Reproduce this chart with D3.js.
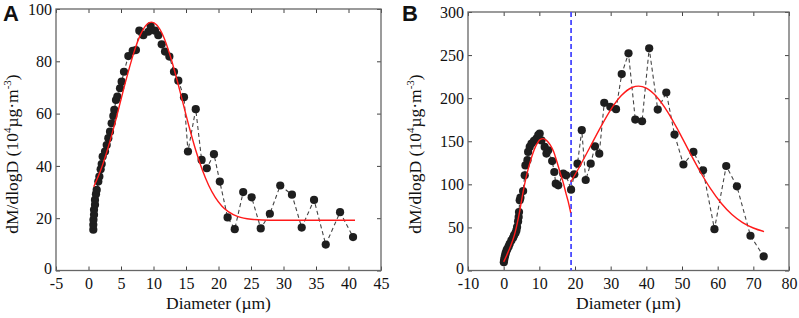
<!DOCTYPE html>
<html>
<head>
<meta charset="utf-8">
<script src="https://cdn.jsdelivr.net/npm/d3@7"></script>
<style>
  html, body { margin: 0; padding: 0; background: #fff; }
  svg { display: block; }
</style>
</head>
<body>
<svg id="chart" width="799" height="318"></svg>
<script>
// ---------- Panel A data ----------
const aDiameter = [0.74,0.74,0.76,0.85,0.85,1.0,1.0,1.15,1.26,1.51,1.67,1.87,2.03,2.18,2.54,2.8,3.05,3.31,3.56,3.82,3.97,4.23,4.44,4.85,5.1,5.46,6.13,6.8,7.3,7.82,8.44,9.2,9.56,10.23,10.74,11.26,11.77,12.44,13.15,13.82,14.69,15.3,16.5,17.4,18.2,19.3,20.2,21.4,22.5,23.8,25.1,26.5,27.9,29.5,31.3,32.8,34.7,36.5,38.7,40.7];
const aMass = [15.6,17.5,19.4,21.3,23.2,25.1,27.0,29.2,30.8,34.0,35.9,38.7,40.7,43.6,45.5,48,50.6,53.1,56.3,59.1,61.4,65.2,66.5,69.7,72.2,76,82,84,84.3,91.7,90,91.3,93.5,91.7,90,86.5,83.7,81.8,76,72.6,66.3,45.5,61.7,42.3,39.1,44.5,34,20.3,15.8,30,28,16.1,21.7,32.5,29,16.4,27,9.9,22.3,12.8];
const aFitX = [0.8,2,3,4,5,6,7,8,9,9.7,10.5,11.5,12.5,13.5,14.5,15.5,16.5,17.5,18.5,19.5,20.5,21.5,23,25,28,32,36,41];
const aFitY = [32.0,39.2,46.9,55.7,65.4,74.9,83.5,90.2,94.2,95.0,93.9,89.7,82.7,74.0,64.4,54.8,46.0,38.5,32.5,27.95,24.7,22.5,20.6,19.6,19.24,19.2,19.2,19.2];
const aXTicks = [-5,0,5,10,15,20,25,30,35,40,45];
const aYTicks = [0,20,40,60,80,100];

// ---------- Panel B data ----------
const bDiameter = [0.05,0.15,0.28,0.45,0.56,0.8,1.03,1.4,1.69,2.16,2.63,2.9,3.3,3.57,3.76,4.04,4.2,4.3,4.5,4.7,5.45,5.9,6.1,6.67,6.86,7.3,7.8,8.5,9.2,9.7,10.1,10.6,11.5,12.0,12.5,13.6,14.2,14.6,15.3,16.7,17.5,18.9,19.8,20.7,21.9,23.0,24.4,25.6,26.8,28.2,29.9,31.5,33.1,35,36.9,38.8,40.8,43.2,45.6,47.9,50.4,53.2,55.9,59.1,62.4,65.4,69.2,72.9];
const bMass = [9.7,12.5,15.5,18,20.2,23,25.2,27.9,31,34.9,38,40.7,43.4,46.5,50.4,57,62,67.8,81.4,84.5,92.2,110.5,122,128,137.6,143.4,147.3,150.4,153,157,159,151,143.4,135.7,139.5,127,114.3,100.8,98.8,112.4,110.5,93.8,111.6,124,162.8,105,124,144,135.6,194.6,190,187.2,228,252,175.2,173.2,257.8,186.8,206.6,157.8,123,137.6,116.3,48,121.3,97.7,40.3,16.3];
const bFit1X = [0,1,2,3,3.6,4.5,5.4,6.4,7.8,9.2,10.2,11.1,12,13,14,14.8,15.8,16.7,17.5,18.1,18.8];
const bFit1Y = [10,19,29,41,51,69,90,110,131,146,152,153,151,146,138,128,114,102,89,80,67];
const bFit2X = [18.8,21,24,27,30,33,36,37.8,40,43,46,49,52,55,58,61,64,67,70,73];
const bFit2Y = [102.7,118.4,141.6,165,186.5,203,212.4,214,211.6,201.1,183.9,162.1,138.4,115.5,95,78.1,65,55.6,49.3,45.2];
const bDivider = [18.9];
const bXTicks = [-10,0,10,20,30,40,50,60,70,80];
const bYTicks = [0,50,100,150,200,250,300];

const SERIF = '"Liberation Serif", "Times New Roman", Times, serif';
const svg = d3.select("#chart");
const plainFmt = d => String(d);

function panel(cfg) {
  const x = d3.scaleLinear().domain(cfg.xDomain).range([cfg.left, cfg.right]);
  const y = d3.scaleLinear().domain(cfg.yDomain).range([cfg.bottom, cfg.top]);
  const g = svg.append("g");

  const ax = g.append("g").attr("transform", `translate(0,${cfg.bottom})`)
    .call(d3.axisBottom(x).tickValues(cfg.xTicks).tickFormat(plainFmt).tickSizeInner(-4).tickSizeOuter(0).tickPadding(7));
  const ay = g.append("g").attr("transform", `translate(${cfg.left},0)`)
    .call(d3.axisLeft(y).tickValues(cfg.yTicks).tickFormat(plainFmt).tickSizeInner(-4).tickSizeOuter(0).tickPadding(4));
  const at = g.append("g").attr("transform", `translate(0,${cfg.top})`)
    .call(d3.axisTop(x).tickValues(cfg.xTicks).tickSizeInner(-4).tickSizeOuter(0).tickFormat(""));
  const ar = g.append("g").attr("transform", `translate(${cfg.right},0)`)
    .call(d3.axisRight(y).tickValues(cfg.yTicks).tickSizeInner(-4).tickSizeOuter(0).tickFormat(""));
  [ax, ay, at, ar].forEach(a => {
    a.select(".domain").remove();
    a.selectAll(".tick line").attr("stroke", "#444").attr("stroke-width", 1);
    a.selectAll(".tick text")
      .attr("font-family", null).attr("font-size", null)
      .style("font-family", SERIF).style("font-size", "16px").attr("fill", "#111");
  });
  // lift the zero label slightly so it clears the first x label
  ay.selectAll(".tick text").filter(d => d === 0).attr("y", -2);

  g.append("rect")
    .attr("x", cfg.left).attr("y", cfg.top)
    .attr("width", cfg.right - cfg.left).attr("height", cfg.bottom - cfg.top)
    .attr("fill", "none").attr("stroke", "#666").attr("stroke-width", 1.3);

  if (cfg.divider) {
    g.selectAll(".divider").data(cfg.divider).enter().append("line")
      .attr("x1", d => x(d)).attr("x2", d => x(d))
      .attr("y1", cfg.top).attr("y2", cfg.bottom)
      .attr("stroke", "#4a4aff").attr("stroke-width", 1.8).attr("stroke-dasharray", "5,3");
  }

  const pts = cfg.xs.map((d, i) => [d, cfg.ys[i]]);
  g.append("path").datum(pts)
    .attr("d", d3.line().x(d => x(d[0])).y(d => y(d[1])))
    .attr("fill", "none").attr("stroke", "#444").attr("stroke-width", 1.1).attr("stroke-dasharray", "4,3");

  g.selectAll(".pt").data(pts).enter().append("circle")
    .attr("cx", d => x(d[0])).attr("cy", d => y(d[1])).attr("r", 4.1)
    .attr("fill", "#1e1e1e");

  cfg.fits.forEach(f => {
    const fp = f[0].map((d, i) => [d, f[1][i]]);
    g.append("path").datum(fp)
      .attr("d", d3.line().curve(d3.curveMonotoneX).x(d => x(d[0])).y(d => y(d[1])))
      .attr("fill", "none").attr("stroke", "#ff1a1a").attr("stroke-width", 1.4);
  });

  g.append("text")
    .attr("x", (cfg.left + cfg.right) / 2).attr("y", 309)
    .attr("text-anchor", "middle")
    .style("font-family", SERIF)
    .style("font-size", "17.5px").attr("fill", "#111")
    .text("Diameter (\u00b5m)");

  const yl = g.append("text")
    .attr("transform", `translate(${cfg.ylabX},154) rotate(-90)`)
    .attr("text-anchor", "middle")
    .style("font-family", SERIF)
    .style("font-size", "17.5px").attr("fill", "#111");
  yl.append("tspan").text("dM/dlogD (10");
  yl.append("tspan").attr("dy", -7).style("font-size", "11px").text("4");
  yl.append("tspan").attr("dy", 7).text("\u00b5g\u00b7m");
  yl.append("tspan").attr("dy", -7).style("font-size", "11px").text("-3");
  yl.append("tspan").attr("dy", 7).text(")");

  g.append("text")
    .attr("x", cfg.letterX).attr("y", 21)
    .style("font-family", '"Liberation Sans", Arial, sans-serif')
    .style("font-weight", "bold").style("font-size", "22px").attr("fill", "#111")
    .text(cfg.letter);
}

panel({
  xDomain: [-5, 45], yDomain: [0, 100],
  left: 56, right: 381, top: 9, bottom: 270.5,
  xTicks: aXTicks, yTicks: aYTicks,
  xs: aDiameter, ys: aMass,
  fits: [[aFitX, aFitY]],
  ylabX: 18, letter: "A", letterX: 3
});

panel({
  xDomain: [-10, 80], yDomain: [0, 300],
  left: 468, right: 789, top: 12, bottom: 270.5,
  xTicks: bXTicks, yTicks: bYTicks,
  xs: bDiameter, ys: bMass,
  fits: [[bFit1X, bFit1Y], [bFit2X, bFit2Y]],
  divider: bDivider,
  ylabX: 421, letter: "B", letterX: 402
});
</script>
</body>
</html>
